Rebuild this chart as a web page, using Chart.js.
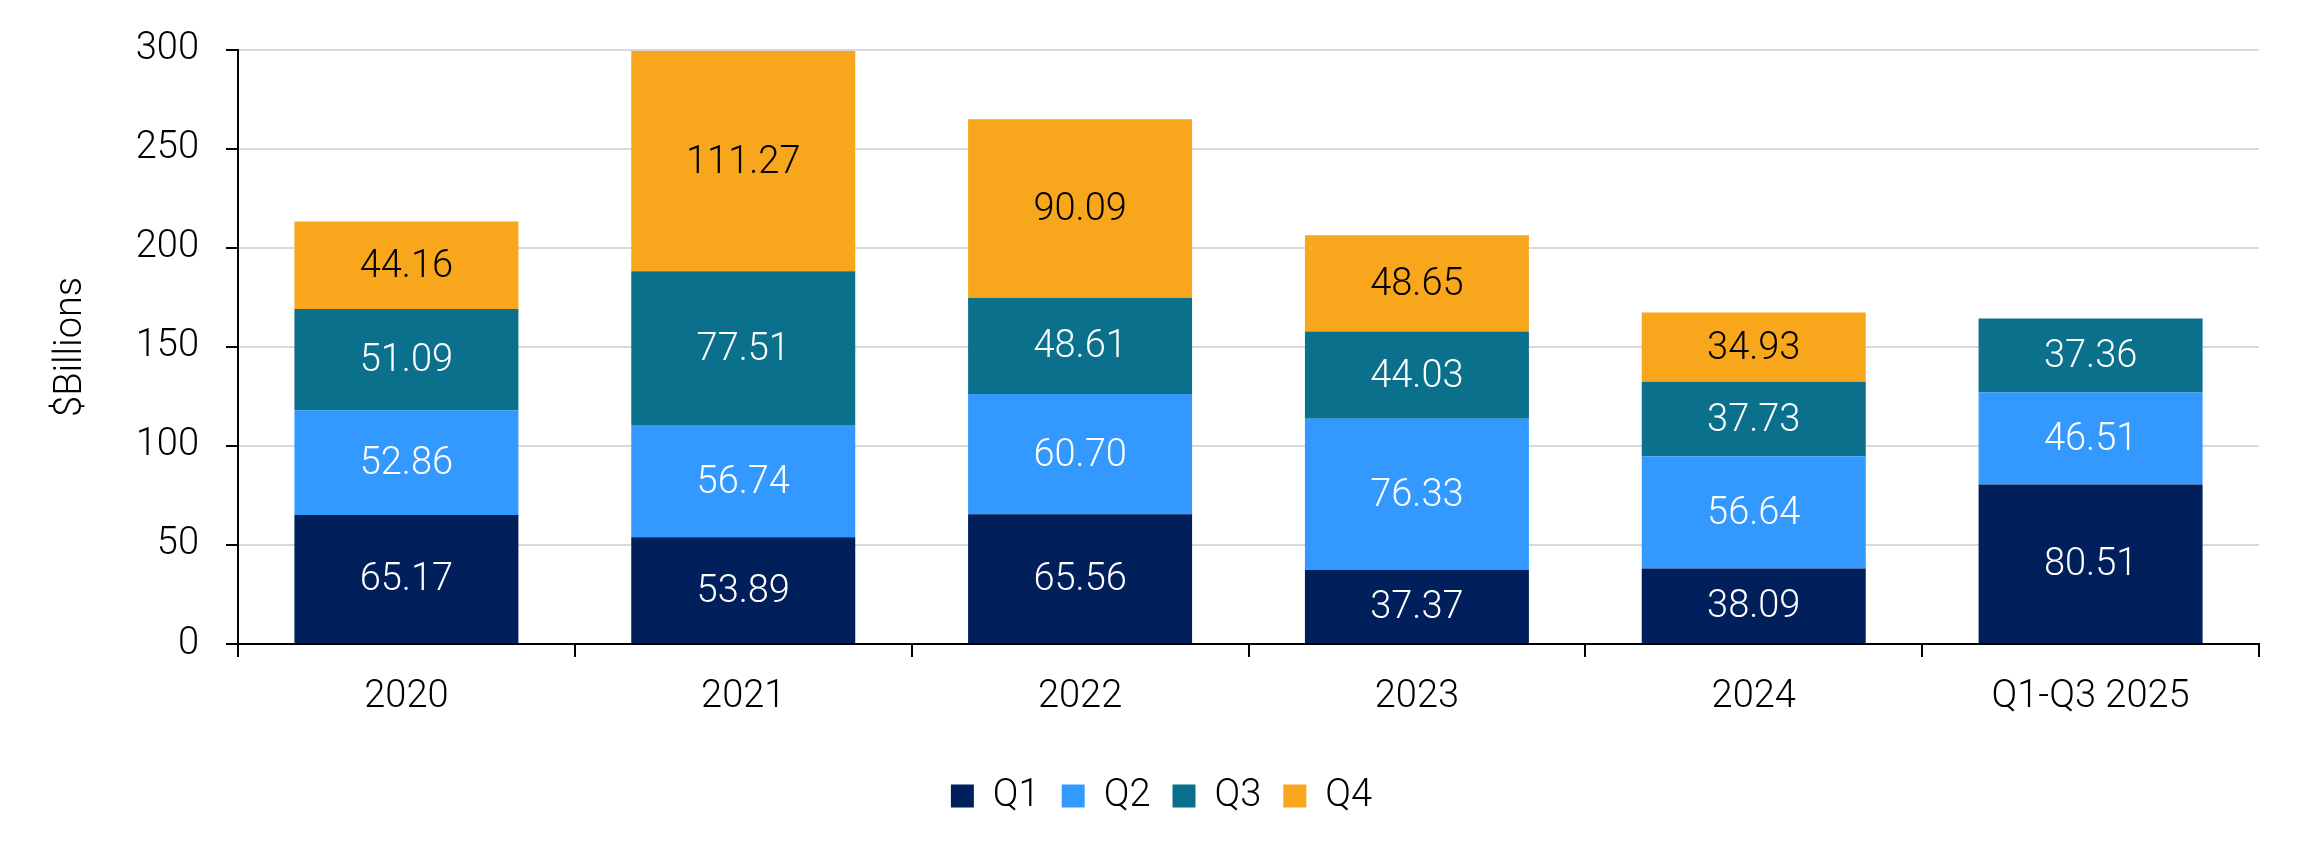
<!DOCTYPE html>
<html>
<head>
<meta charset="utf-8">
<script src="https://cdn.jsdelivr.net/npm/chart.js@4.4.1/dist/chart.umd.min.js"></script>
<style>
  body { margin: 0; background: #fff; }
  #chart { display: block; }
</style>
</head>
<body>
<canvas id="chart" width="2310" height="858"></canvas>
<script>
// Categories and quarterly values ($ billions)
const years = ['2020', '2021', '2022', '2023', '2024', 'Q1-Q3 2025'];
const q1 = [65.17, 53.89, 65.56, 37.37, 38.09, 80.51];
const q2 = [52.86, 56.74, 60.70, 76.33, 56.64, 46.51];
const q3 = [51.09, 77.51, 48.61, 44.03, 37.73, 37.36];
const q4 = [44.16, 111.27, 90.09, 48.65, 34.93, null];
const seriesNames = ['Q1', 'Q2', 'Q3', 'Q4'];
const yTicks = [0, 50, 100, 150, 200, 250, 300];

const colors = ['#011F5B', '#3399FF', '#0B708B', '#F8A61C'];
const labelColors = ['#ffffff', '#ffffff', '#ffffff', '#000000'];
const FONT = 'Roboto';

// draw the value in the middle of each segment
const segmentLabels = {
    id: 'segmentLabels',
    afterDatasetsDraw(chart) {
        const ctx = chart.ctx;
        ctx.save();
        ctx.font = '300 38px ' + FONT;
        ctx.textAlign = 'center';
        ctx.textBaseline = 'middle';
        chart.data.datasets.forEach((ds, i) => {
            const meta = chart.getDatasetMeta(i);
            meta.data.forEach((bar, j) => {
                const v = ds.data[j];
                if (v === null || v === undefined) return;
                ctx.fillStyle = labelColors[i];
                ctx.fillText(v.toFixed(2), bar.x, (bar.y + bar.base) / 2 + 2);
            });
        });
        ctx.restore();
    }
};

// the legend sits a bit right of the canvas centre in the original
const legendShift = {
    id: 'legendShift',
    afterLayout(chart) {
        chart.legend.left += 32;
        chart.legend.right += 32;
    }
};

const allSeries = [q1, q2, q3, q4];

new Chart(document.getElementById('chart'), {
    type: 'bar',
    data: {
        labels: years,
        datasets: allSeries.map((vals, i) => ({
            label: seriesNames[i],
            data: vals,
            backgroundColor: colors[i],
            borderWidth: 0,
            categoryPercentage: 1,
            barPercentage: 0.665
        }))
    },
    options: {
        responsive: false,
        devicePixelRatio: 1,
        animation: false,
        layout: { padding: { top: 30, right: 51, left: 0, bottom: 33 } },
        scales: {
            x: {
                stacked: true,
                grid: {
                    drawOnChartArea: false,
                    drawTicks: true,
                    tickLength: 13,
                    tickColor: '#000',
                    lineWidth: 2
                },
                border: { color: '#000', width: 2 },
                ticks: {
                    color: '#000',
                    font: { family: FONT, size: 38, weight: 300 },
                    padding: 18
                },
                afterFit(scale) { scale.height = 111; }
            },
            y: {
                stacked: true,
                min: 0,
                max: 300,
                afterBuildTicks(scale) {
                    scale.ticks = yTicks.map(v => ({ value: v }));
                },
                grid: {
                    color: '#D9D9D9',
                    lineWidth: 2,
                    tickLength: 12,
                    tickColor: '#000'
                },
                border: { color: '#000', width: 2 },
                ticks: {
                    color: '#000',
                    font: { family: FONT, size: 38, weight: 300 },
                    padding: 27
                },
                title: {
                    display: true,
                    text: '$Billions',
                    color: '#000',
                    font: { family: FONT, size: 38, weight: 300 },
                    padding: { top: 49, bottom: 0 }
                },
                afterFit(scale) { scale.width = 238; }
            }
        },
        plugins: {
            legend: {
                position: 'bottom',
                labels: {
                    boxWidth: 23,
                    boxHeight: 23,
                    padding: 22,
                    color: '#000',
                    font: { family: FONT, size: 38, weight: 300 }
                }
            },
            tooltip: { enabled: false }
        }
    },
    plugins: [segmentLabels, legendShift]
});
</script>
</body>
</html>
